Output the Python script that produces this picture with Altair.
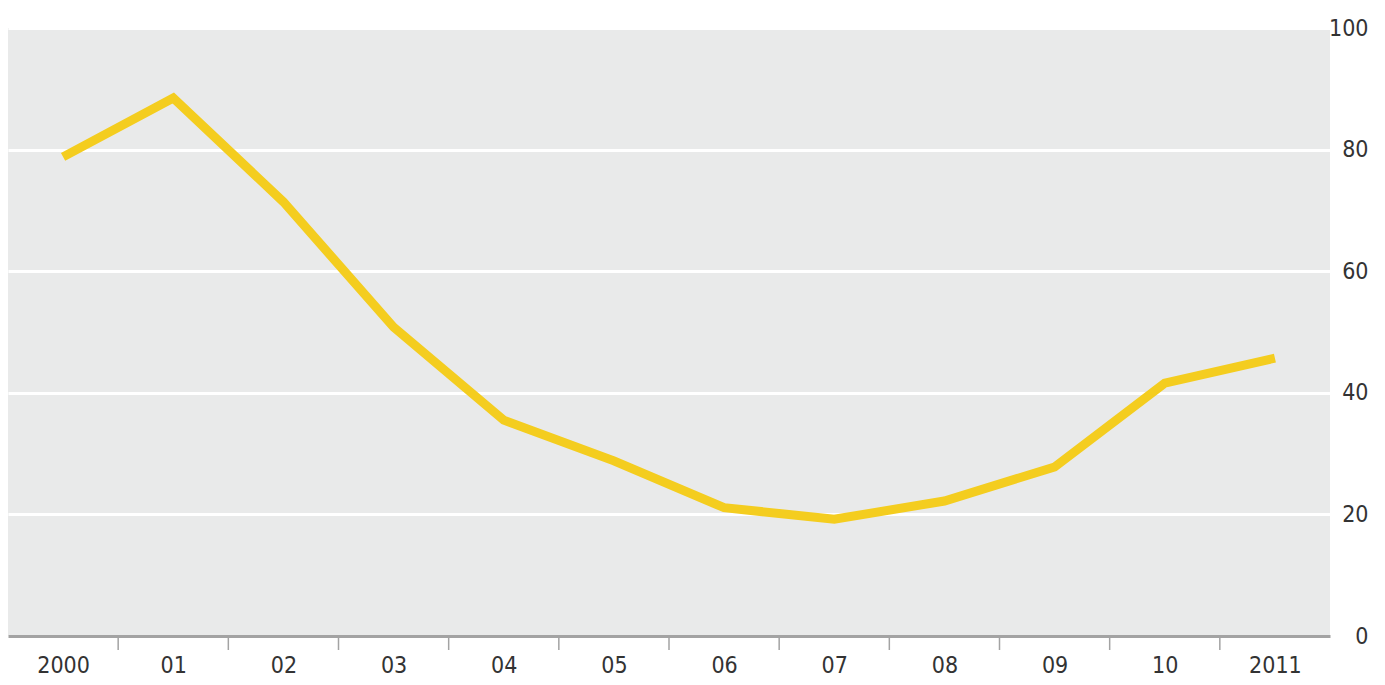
import altair as alt
import pandas as pd

years = ["2000", "01", "02", "03", "04", "05", "06", "07", "08", "09", "10", "2011"]
values = [78.8, 88.5, 71.4, 50.8, 35.5, 28.8, 21.1, 19.2, 22.2, 27.8, 41.6, 45.7]
tick_positions = [0.5, 1.5, 2.5, 3.5, 4.5, 5.5, 6.5, 7.5, 8.5, 9.5, 10.5]

W, H = 1322, 608
FONT = "Liberation Sans Narrow, DejaVu Sans Condensed, sans-serif"

df = pd.DataFrame({"i": list(range(len(years))), "year": years, "value": values})
ticks_df = pd.DataFrame({"t": tick_positions})

label_expr = "[" + ",".join('"%s"' % y for y in years) + "][datum.value]"

xscale = alt.Scale(domain=[-0.5, 11.5], nice=False, zero=False)
yscale = alt.Scale(domain=[0, 100], nice=False)

line = alt.Chart(df).mark_line(color="#f4cd1f", strokeWidth=9, strokeCap="butt", strokeJoin="miter").encode(
    x=alt.X("i:Q", scale=xscale,
            axis=alt.Axis(values=list(range(len(years))), labelExpr=label_expr, title=None,
                          ticks=False, grid=False, domain=True, domainColor="#a3a3a3", domainWidth=3,
                          labelFont=FONT, labelFontSize=23, labelColor="#333333", labelPadding=18)),
    y=alt.Y("value:Q", scale=yscale,
            axis=alt.Axis(orient="right", values=[0, 20, 40, 60, 80, 100], title=None,
                          ticks=False, domain=False, grid=True, gridColor="#ffffff", gridWidth=3,
                          labelFont=FONT, labelFontSize=23, labelColor="#333333",
                          labelAlign="right", labelPadding=38, labelBaseline="middle")),
)

tickmarks = alt.Chart(ticks_df).mark_rule(color="#a3a3a3", strokeWidth=1.5).encode(
    x=alt.X("t:Q", scale=xscale),
    y=alt.value(H + 2),
    y2=alt.value(H + 14),
)

chart = alt.layer(line, tickmarks).properties(
    width=W, height=H,
    autosize=alt.AutoSizeParams(type="none"),
    padding={"left": 8, "top": 28, "right": 55, "bottom": 49},
    background="#ffffff",
).configure_view(fill="#e9eaea", stroke=None)

chart.save("out.html", embed_options={"renderer": "svg", "actions": False})
